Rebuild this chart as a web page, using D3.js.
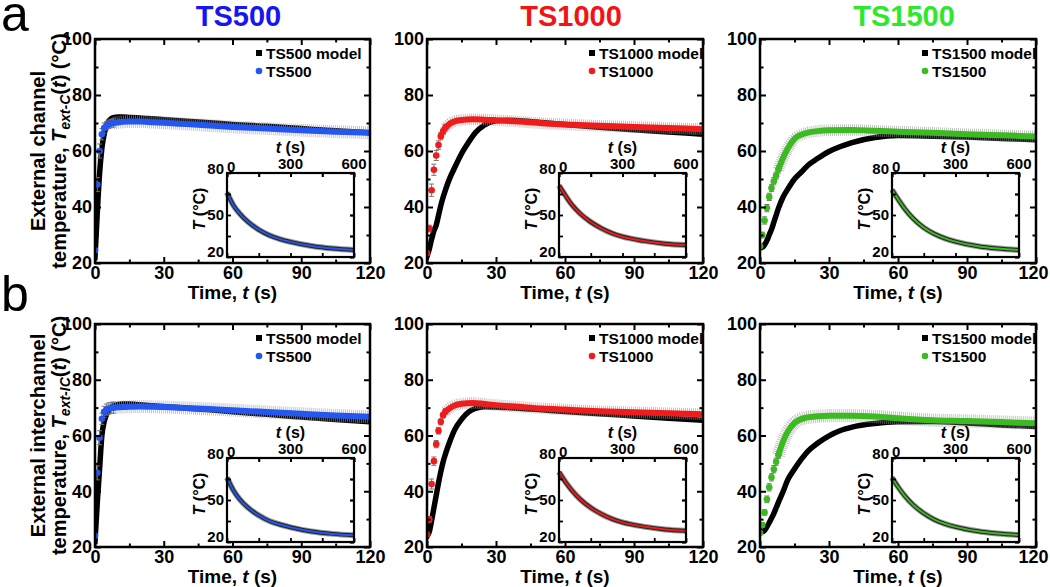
<!DOCTYPE html>
<html>
<head>
<meta charset="utf-8">
<script src="https://cdn.jsdelivr.net/npm/d3@7"></script>
<style>
  body { margin: 0; background: #fff; }
  svg { display: block; font-family: "Liberation Sans", Arial, sans-serif; font-weight: bold; }
  .tick text { font-family: "Liberation Sans", Arial, sans-serif; font-weight: bold; fill: #000; }
</style>
</head>
<body>
<svg id="chart" width="1050" height="587"></svg>
<script>
// time grids (s)
const modelT = [0, 1, 2, 3, 4, 5, 6, 7, 8, 10, 12, 15, 18, 21, 25, 30, 35, 40, 50, 60, 75, 90, 105, 120];
const dataT = [0, 1, 2, 3, 4, 5, 6, 7, 8, 10, 12, 15, 20, 25, 30, 40, 50, 60, 75, 90, 105, 120];
const insetT = [0, 30, 60, 100, 150, 200, 250, 300, 400, 500, 600];

// row a: external channel
const a1Model = [22, 38, 52, 61, 66, 69, 70.7, 71.5, 71.9, 72.1, 72.1, 72, 71.9, 71.7, 71.5, 71.2, 70.9, 70.6, 70.1, 69.5, 68.8, 68, 67.2, 66.5];
const a1Data = [24.5, 48, 60, 66, 68.2, 69, 69.5, 69.8, 70, 70.2, 70.4, 70.5, 70.5, 70.3, 70.1, 69.6, 69.1, 68.6, 68, 67.4, 66.9, 66.5];
const a1Err = [0.5, 2.5, 2.5, 2, 1.8, 1.5, 1.5, 1.5, 1.5, 1.5, 1.5, 1.4, 1.3, 1.3, 1.2, 1.2, 1.2, 1.2, 1.2, 1.2, 1.2, 1.2];
const a1Inset = [66, 57, 51, 45, 39.5, 35.5, 32.8, 30.8, 27.8, 26, 25];

const a2Model = [22.3, 25, 28.5, 31.5, 33.5, 37, 40.5, 43.5, 46, 50.5, 54, 59, 63, 66.5, 69.3, 70.8, 71, 70.8, 70.2, 69.5, 68.5, 67.6, 66.8, 66];
const a2Data = [23.5, 32.3, 46, 53.3, 58.4, 62.1, 65.3, 67, 68.3, 69.8, 70.6, 71.1, 71.3, 71.2, 71, 70.5, 69.9, 69.5, 69, 68.6, 68.2, 67.8];
const a2Err = [0.7, 1.2, 2.2, 2, 1.8, 1.5, 1.3, 1.2, 1.2, 1.2, 1.2, 1.1, 1, 1, 1, 1, 1, 1, 1, 1, 1, 1];
const a2Inset = [71, 64, 57.5, 51, 45, 40.5, 37, 34.5, 31.5, 29.5, 28.5];

const a3Model = [26, 25.5, 26.5, 28, 30, 32, 34.5, 37, 39.5, 43.5, 46.3, 50, 52.5, 55, 57.3, 59.8, 61.6, 63, 64.8, 65.5, 65.3, 65, 64.5, 64];
const a3Data = [26, 30, 35.2, 39.6, 43.6, 46.8, 49.2, 51.2, 53.4, 57.5, 60.8, 64.3, 66.4, 67.1, 67.4, 67.5, 67.2, 66.9, 66.5, 66, 65.6, 65.2];
const a3Err = [0.6, 1, 1.3, 1.3, 1.3, 1.3, 1.3, 1.3, 1.3, 1.2, 1.2, 1.1, 1, 1, 1, 1, 1, 1, 1, 1, 1, 1];
const a3Inset = [68, 61, 54.5, 47.5, 41, 36.5, 33.3, 31, 27.8, 26, 25];

// row b: external interchannel
const b1Model = [22, 36, 48, 60, 65, 67.5, 69, 70, 70.6, 71.1, 71.3, 71.3, 71.1, 70.9, 70.7, 70.4, 70.1, 69.8, 69.2, 68.5, 67.6, 66.6, 65.7, 64.9];
const b1Data = [24, 46.6, 59.2, 66, 68.5, 69.3, 69.7, 69.9, 70, 70.1, 70.2, 70.3, 70.4, 70.3, 70.2, 69.9, 69.5, 69.1, 68.4, 67.8, 67.2, 66.7];
const b1Err = [0.5, 2.5, 2.5, 2, 2, 2, 2, 2, 2, 2, 2, 1.8, 1.5, 1.3, 1.2, 1.2, 1.2, 1.2, 1.2, 1.2, 1.2, 1.2];
const b1Inset = [66, 57, 50.5, 44.5, 39, 35, 32.5, 30.5, 27.5, 25.8, 24.8];

const b2Model = [23.7, 25.5, 29.5, 34, 38.5, 43, 47, 50.5, 53.3, 58, 62, 65.8, 68.4, 69.7, 70.3, 70.2, 70, 69.8, 69.2, 68.6, 67.8, 67, 66.2, 65.5];
const b2Data = [24.5, 29.9, 42.6, 50.8, 56.9, 61.7, 64.9, 67.3, 68.6, 69.9, 70.8, 71.4, 71.7, 71.3, 70.9, 70.3, 69.7, 69.3, 68.7, 68.3, 68, 67.6];
const b2Err = [0.8, 1, 1.8, 1.5, 1.3, 1.2, 1.1, 1, 1, 1, 1, 1, 1, 1, 1, 1, 1, 1, 1, 1, 1, 1];
const b2Inset = [70, 63, 57, 50.5, 44.5, 40, 36.5, 34, 31, 29, 28];

const b3Model = [26, 25.5, 26, 27.3, 28.7, 30.3, 32, 34, 36, 39.8, 44, 48, 51.5, 54.5, 57.2, 59.9, 61.8, 63, 64.3, 64.9, 65, 64.5, 63.8, 63.2];
const b3Data = [25, 27.9, 32.4, 37.1, 41.4, 45, 47.9, 50.6, 53, 57.8, 61.3, 64.5, 66.4, 66.9, 67.1, 67.1, 66.8, 66.2, 65.5, 65.2, 64.8, 64.4];
const b3Err = [0.6, 0.8, 1, 1.2, 1.3, 1.3, 1.3, 1.3, 1.3, 1.3, 1.3, 1.3, 1.3, 1.3, 1.3, 1.3, 1.3, 1.3, 1.3, 1.3, 1.3, 1.3];
const b3Inset = [66, 59, 53, 46.5, 40.5, 36, 33, 30.8, 27.8, 26, 25];

const names = ['TS500', 'TS1000', 'TS1500'];
const xTicks = [0, 30, 60, 90, 120];
const yTicks = [20, 40, 60, 80, 100];
const insetXTicks = [0, 300, 600];
const insetYTicks = [20, 50, 80];

const titleColors = ['#1616f2', '#f21414', '#2ee82a'];
const dataColors = ['#2457f0', '#f01c1c', '#3cba22'];

const cols = [[95, 370], [427, 703], [760, 1036]];
const rows = [[39, 263], [324, 547]];

const panels = [
  {row: 0, col: 0, model: a1Model, data: a1Data, err: a1Err, inset: a1Inset},
  {row: 0, col: 1, model: a2Model, data: a2Data, err: a2Err, inset: a2Inset},
  {row: 0, col: 2, model: a3Model, data: a3Data, err: a3Err, inset: a3Inset},
  {row: 1, col: 0, model: b1Model, data: b1Data, err: b1Err, inset: b1Inset},
  {row: 1, col: 1, model: b2Model, data: b2Data, err: b2Err, inset: b2Inset},
  {row: 1, col: 2, model: b3Model, data: b3Data, err: b3Err, inset: b3Inset},
];

const svg = d3.select('#chart');

function frameTicks(g, x, y, x0, x1, y0, y1, xMajor, xMinor, yMajor, yMinor, big, small) {
  // inward ticks on all four sides
  g.append('g').attr('transform', 'translate(0,' + y1 + ')')
    .call(d3.axisBottom(x).tickValues(xMinor).tickSize(-small).tickFormat(''));
  g.append('g').attr('transform', 'translate(0,' + y0 + ')')
    .call(d3.axisTop(x).tickValues(xMajor).tickSize(-big).tickFormat(''));
  g.append('g').attr('transform', 'translate(0,' + y0 + ')')
    .call(d3.axisTop(x).tickValues(xMinor).tickSize(-small).tickFormat(''));
  g.append('g').attr('transform', 'translate(' + x0 + ',0)')
    .call(d3.axisLeft(y).tickValues(yMinor).tickSize(-small).tickFormat(''));
  g.append('g').attr('transform', 'translate(' + x1 + ',0)')
    .call(d3.axisRight(y).tickValues(yMajor).tickSize(-big).tickFormat(''));
  g.append('g').attr('transform', 'translate(' + x1 + ',0)')
    .call(d3.axisRight(y).tickValues(yMinor).tickSize(-small).tickFormat(''));
}

panels.forEach((p) => {
  const [x0, x1] = cols[p.col];
  const [y0, y1] = rows[p.row];
  const color = dataColors[p.col];
  const name = names[p.col];
  const g = svg.append('g');

  const x = d3.scaleLinear().domain([0, 120]).range([x0, x1]);
  const y = d3.scaleLinear().domain([20, 100]).range([y1, y0]);

  g.append('defs').append('clipPath').attr('id', 'clip' + p.row + p.col)
    .append('rect').attr('x', x0).attr('y', y0).attr('width', x1 - x0).attr('height', y1 - y0);
  const plot = g.append('g').attr('clip-path', 'url(#clip' + p.row + p.col + ')');

  const modelPts = modelT.map((t, i) => [t, p.model[i]]);
  const dataPts = dataT.map((t, i) => ({t: t, v: p.data[i], e: p.err[i]}));

  const line = d3.line().x((d) => x(d[0])).y((d) => y(d[1])).curve(d3.curveMonotoneX);

  // model: dense black squares -> thick black band
  plot.append('path').datum(modelPts)
    .attr('d', line).attr('fill', 'none')
    .attr('stroke', '#000').attr('stroke-width', 5.5).attr('stroke-linecap', 'square');

  // error envelope on the dense part
  const dense = dataPts.filter((d) => d.t >= 8).map((d) => [d.t, d.v]);
  const errW = 6 + 2 * d3.mean(p.err.slice(12)) * (y1 - y0) / 80;
  plot.append('path').datum(dense)
    .attr('d', line).attr('fill', 'none')
    .attr('stroke', '#a0a0a0').attr('stroke-width', errW)
    .attr('stroke-opacity', 0.75)
    .attr('stroke-dasharray', '0.8 1.2');

  // error bars on discrete points
  const early = dataPts.filter((d) => d.t <= 8);
  plot.selectAll('.eb').data(early).enter().append('path')
    .attr('d', (d) => {
      const cx = x(d.t), ya = y(d.v + d.e), yb = y(d.v - d.e);
      return 'M' + cx + ',' + ya + 'V' + yb +
        'M' + (cx - 2.5) + ',' + ya + 'H' + (cx + 2.5) +
        'M' + (cx - 2.5) + ',' + yb + 'H' + (cx + 2.5);
    })
    .attr('stroke', '#777').attr('stroke-width', 1).attr('fill', 'none');

  plot.append('path').datum(dense)
    .attr('d', line).attr('fill', 'none')
    .attr('stroke', color).attr('stroke-width', 6).attr('stroke-linecap', 'round');

  plot.selectAll('.pt').data(early).enter().append('circle')
    .attr('cx', (d) => x(d.t)).attr('cy', (d) => y(d.v)).attr('r', 3.3)
    .attr('fill', color);

  // axes with labels
  const xAxis = g.append('g').attr('transform', 'translate(0,' + y1 + ')')
    .call(d3.axisBottom(x).tickValues(xTicks).tickSize(-6).tickPadding(3));
  xAxis.selectAll('text').attr('font-size', 18)
    .attr('dx', (d) => (p.col === 2 && d === 120) ? -3 : 0);
  const yAxis = g.append('g').attr('transform', 'translate(' + x0 + ',0)')
    .call(d3.axisLeft(y).tickValues(yTicks).tickSize(-6).tickPadding(3));
  yAxis.selectAll('text').attr('font-size', 18);

  frameTicks(g, x, y, x0, x1, y0, y1,
    xTicks, [15, 45, 75, 105], yTicks, [30, 50, 70, 90], 6, 3.5);
  g.selectAll('.domain').remove();
  g.selectAll('.tick line').attr('stroke', '#000').attr('stroke-width', 2);

  g.append('rect').attr('x', x0).attr('y', y0)
    .attr('width', x1 - x0).attr('height', y1 - y0)
    .attr('fill', 'none').attr('stroke', '#000').attr('stroke-width', 2.5);

  // x title
  const xt = g.append('text').attr('x', (x0 + x1) / 2).attr('y', y1 + 36)
    .attr('text-anchor', 'middle').attr('font-size', 19);
  xt.append('tspan').text('Time, ');
  xt.append('tspan').attr('font-style', 'italic').text('t');
  xt.append('tspan').text(' (s)');

  // legend
  const lx = x1 - 104;
  g.append('rect').attr('x', lx - 10).attr('y', y0 + 11).attr('width', 6).attr('height', 6).attr('fill', '#000');
  g.append('text').attr('x', lx).attr('y', y0 + 19.5).attr('font-size', 15.5).text(name + ' model');
  g.append('circle').attr('cx', lx - 7).attr('cy', y0 + 32).attr('r', 3.3).attr('fill', color);
  g.append('text').attr('x', lx).attr('y', y0 + 37.5).attr('font-size', 15.5).text(name);

  // inset
  const ix0 = x0 + 132, ix1 = ix0 + 127;
  const iy0 = y0 + 134, iy1 = iy0 + 84;
  const ix = d3.scaleLinear().domain([0, 600]).range([ix0, ix1]);
  const iy = d3.scaleLinear().domain([20, 80]).range([iy1, iy0]);
  const ig = g.append('g');
  ig.append('rect').attr('x', ix0).attr('y', iy0).attr('width', ix1 - ix0).attr('height', iy1 - iy0)
    .attr('fill', '#fff');
  const insetPts = insetT.map((t, i) => [t, p.inset[i]]);
  const iline = d3.line().x((d) => ix(d[0])).y((d) => iy(d[1])).curve(d3.curveMonotoneX);
  ig.append('path').datum(insetPts).attr('d', iline).attr('fill', 'none')
    .attr('stroke', '#9a9a9a').attr('stroke-width', 6);
  ig.append('path').datum(insetPts).attr('d', iline).attr('fill', 'none')
    .attr('stroke', '#222').attr('stroke-width', 4);
  ig.append('path').datum(insetPts).attr('d', iline).attr('fill', 'none')
    .attr('stroke', color).attr('stroke-width', 2);

  const itg = ig.append('g');
  frameTicks(itg, ix, iy, ix0, ix1, iy0, iy1,
    [0, 150, 300, 450, 600], [0, 150, 300, 450, 600],
    [20, 35, 50, 65, 80], [20, 35, 50, 65, 80], 4, 4);
  itg.selectAll('.domain').remove();
  itg.selectAll('.tick line').attr('stroke', '#000').attr('stroke-width', 1.8);
  ig.append('rect').attr('x', ix0).attr('y', iy0).attr('width', ix1 - ix0).attr('height', iy1 - iy0)
    .attr('fill', 'none').attr('stroke', '#000').attr('stroke-width', 2.2);

  ig.selectAll('.ixl').data(insetXTicks).enter().append('text')
    .attr('x', (d) => ix(d)).attr('y', (d) => d === 0 ? iy0 - 1 : iy0 - 4)
    .attr('text-anchor', (d) => d === 0 ? 'start' : 'middle')
    .attr('font-size', 15).text((d) => d);
  ig.selectAll('.iyl').data(insetYTicks).enter().append('text')
    .attr('x', ix0 - 3).attr('y', (d) => d === 80 ? iy0 + 1 : d === 20 ? iy1 : iy(d) + 5)
    .attr('text-anchor', 'end').attr('font-size', 15).text((d) => d);

  const it = ig.append('text').attr('x', (ix0 + ix1) / 2).attr('y', iy0 - 20)
    .attr('text-anchor', 'middle').attr('font-size', 16);
  it.append('tspan').attr('font-style', 'italic').text('t');
  it.append('tspan').text(' (s)');

  const iyt = ig.append('text')
    .attr('transform', 'translate(' + (ix0 - 22) + ',' + ((iy0 + iy1) / 2 - 6) + ') rotate(-90)')
    .attr('text-anchor', 'middle').attr('font-size', 16);
  iyt.append('tspan').attr('font-style', 'italic').text('T');
  iyt.append('tspan').text(' (°C)');
});

// column titles
names.forEach((n, i) => {
  svg.append('text').attr('x', (cols[i][0] + cols[i][1]) / 2 + 6).attr('y', 26)
    .attr('text-anchor', 'middle').attr('font-size', 29)
    .attr('fill', titleColors[i]).text(n);
});

// panel letters
svg.append('text').attr('x', 1).attr('y', 31).attr('font-size', 50).attr('font-weight', 'normal').text('a');
svg.append('text').attr('x', 1).attr('y', 311).attr('font-size', 50).attr('font-weight', 'normal').text('b');

// y titles
const yTitles = [['External channel', 'ext-C'], ['External interchannel', 'ext-IC']];
yTitles.forEach((yt, r) => {
  const cy = (rows[r][0] + rows[r][1]) / 2;
  svg.append('text').attr('transform', 'translate(45,' + cy + ') rotate(-90)')
    .attr('text-anchor', 'middle').attr('font-size', 20).text(yt[0]);
  const t2 = svg.append('text').attr('transform', 'translate(66,' + cy + ') rotate(-90)')
    .attr('text-anchor', 'middle').attr('font-size', 20);
  t2.append('tspan').text('temperature, ');
  t2.append('tspan').attr('font-style', 'italic').text('T');
  t2.append('tspan').attr('font-style', 'italic').attr('font-size', 14).attr('dy', 4).text(yt[1]);
  t2.append('tspan').attr('dy', -4).text('(');
  t2.append('tspan').attr('font-style', 'italic').text('t');
  t2.append('tspan').text(') (°C)');
});
</script>
</body>
</html>
